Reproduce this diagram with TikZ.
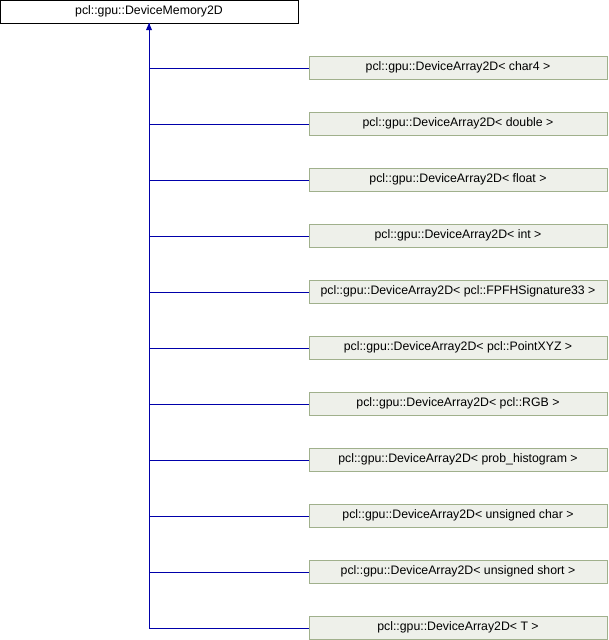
\documentclass[tikz,border=0pt]{standalone}
\usepackage{fontspec}
\setmainfont{Liberation Sans}
\definecolor{edgeblue}{RGB}{0,0,170}
\definecolor{boxfill}{RGB}{238,240,234}
\definecolor{boxline}{RGB}{160,176,140}
\begin{document}
\begin{tikzpicture}[x=1pt,y=-1pt,
  basebox/.style={draw=black,fill=white,line width=1pt,minimum width=298pt,minimum height=23pt,inner sep=0pt,font=\fontsize{12.3}{14}\selectfont},
  childbox/.style={draw=boxline,fill=boxfill,line width=1pt,minimum width=298pt,minimum height=23pt,inner sep=0pt,font=\fontsize{12.3}{14}\selectfont},
  connline/.style={draw=edgeblue,line width=1pt}]
\useasboundingbox (0,0) rectangle (608,640);
\node[basebox] (base) at (149,11.5) {pcl::gpu::DeviceMemory2D};
\coordinate (top) at (149,23);
\foreach \i/\t in {0/{char4},1/{double},2/{float},3/{int},4/{pcl::FPFHSignature33},5/{pcl::PointXYZ},6/{pcl::RGB},7/{prob\_histogram},8/{unsigned char},9/{unsigned short},10/{T}}{
  \node[childbox] (c\i) at (458,67.5+56*\i) {pcl::gpu::DeviceArray2D< \t\ >};
  \coordinate (j\i) at (149,68+56*\i);
}
\draw[connline] (c10.west |- j10) -- (j10) -- (top);
\foreach \i in {0,...,9}{
  \draw[connline] (c\i.west |- j\i) -- (j\i);
}
\fill[edgeblue] (top) -- ++(-3,7) -- ++(6,0) -- cycle;
\end{tikzpicture}
\end{document}
